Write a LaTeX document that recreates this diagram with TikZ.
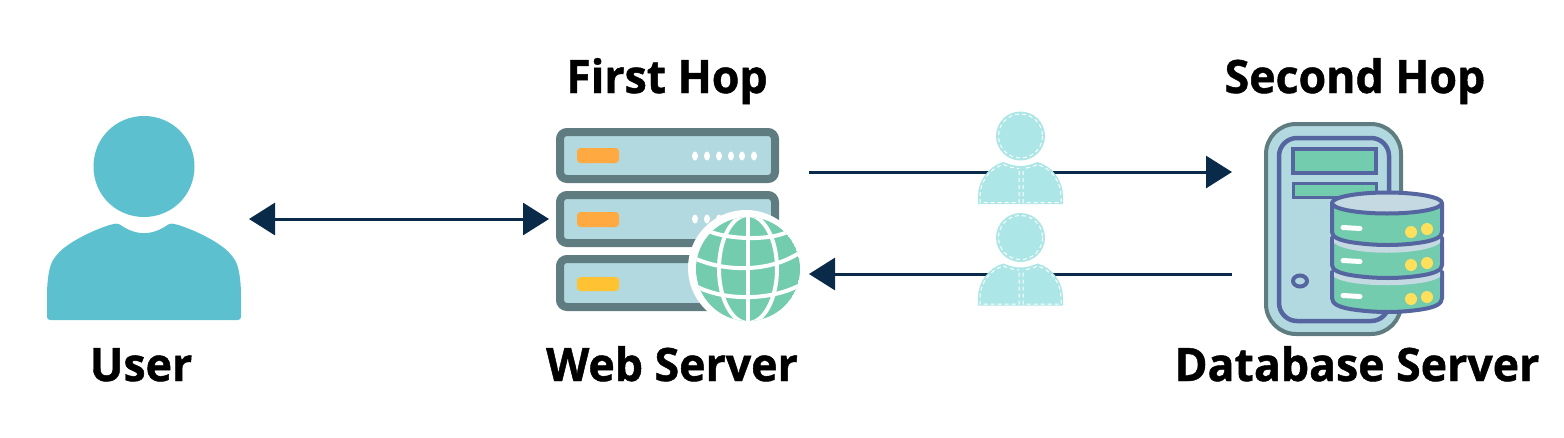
\documentclass[tikz,border=0pt]{standalone}
\usepackage{fontspec}
\setmainfont[FakeStretch=0.97,BoldFeatures={FakeStretch=0.97,FakeBold=1}]{Open Sans}
\usetikzlibrary{arrows.meta}

\definecolor{navy}{HTML}{0A2A4A}
\definecolor{usercol}{HTML}{5CC0CF}
\definecolor{palecol}{HTML}{ACE6E6}
\definecolor{rackcol}{HTML}{5F7C80}
\definecolor{panelcol}{HTML}{B3D9E0}
\definecolor{greencol}{HTML}{73CCAE}
\definecolor{indigo}{HTML}{5565A0}
\definecolor{lightcol}{HTML}{C5D9E2}
\definecolor{ledcol}{HTML}{FFA940}
\definecolor{led2col}{HTML}{FFC233}
\definecolor{dotcol}{HTML}{FFE05C}

\begin{document}
\begin{tikzpicture}
  [x=1pt,y=-1pt,
  label/.style={font=\fontsize{46}{50}\selectfont\bfseries,text=black,inner sep=0pt,anchor=base},
  link/.style={navy,line width=3pt,-{Triangle[length=26pt,width=32pt]}},
  linkboth/.style={navy,line width=3pt,{Triangle[length=26pt,width=32pt]}-{Triangle[length=26pt,width=32pt]}},
  rack/.style={draw=rackcol,fill=panelcol,line width=8pt,rounded corners=7pt},
  led/.style={fill=ledcol,rounded corners=3.5pt},
  led2/.style={fill=led2col,rounded corners=3.5pt},
  blink/.style={fill=white},
  grid/.style={draw=white,line width=4pt},
  box/.style={draw=indigo,fill=greencol,line width=4.5pt},
  disk/.style={draw=indigo,fill=greencol,line width=4pt,line join=round},
  strip/.style={white,line width=5pt,line cap=round},
  yellowdot/.style={fill=dotcol},
  stitch/.style={white,line width=1pt,dash pattern=on 4pt off 3pt},
  person/.pic={
    \fill[palecol] (0,0) circle (24.5);
    \draw[stitch] (0,0) circle (22);
    \fill[palecol] (-42.5,68) -- (-42.5,60) .. controls (-42.5,45) and (-32,30) .. (-17,26)
      .. controls (-10,29) and (-5,30) .. (0,30)
      .. controls (5,30) and (10,29) .. (17,26)
      .. controls (32,30) and (42.5,45) .. (42.5,60) -- (42.5,68) -- cycle;
    \draw[stitch] (-1.5,35) -- (-1.5,66.5) -- (-40.5,66.5) -- (-40.5,60) .. controls (-40.5,46) and (-31,32.5) .. (-17,28.5)
      .. controls (-12,31) and (-7,32) .. (-1.5,32.5);
    \draw[stitch] (2.5,35) -- (2.5,66.5) -- (40.5,66.5) -- (40.5,60) .. controls (40.5,46) and (31,32.5) .. (17,28.5)
      .. controls (12,31) and (7,32) .. (2.5,32.5);
  }]

  \useasboundingbox (0,0) rectangle (1564,437);

  % ends of the connectors
  \coordinate (userR) at (249,219);
  \coordinate (webL) at (549,219);
  \coordinate (webOut) at (809,172);
  \coordinate (dbIn) at (1232,172);
  \coordinate (dbOut) at (1232,274);
  \coordinate (webIn) at (809,274);

  \draw[linkboth] (userR) -- (webL);
  \draw[link] (webOut) -- (dbIn);
  \draw[link] (dbOut) -- (webIn);

  % user
  \fill[usercol] (93.5,166.5) .. controls (93.5,138) and (116,116) .. (144,116)
    .. controls (172,116) and (194.5,138) .. (194.5,166.5)
    .. controls (194.5,195) and (172,217) .. (144,217)
    .. controls (116,217) and (93.5,195) .. (93.5,166.5) -- cycle;
  \fill[usercol,rounded corners=3pt] (47,320) -- (47,300) .. controls (47,280) and (49,265) .. (56,256)
    .. controls (66,244) and (90,231) .. (113,224) .. controls (117,223.5) and (119,224) .. (122,226)
    .. controls (130,231) and (138,233) .. (144,233) .. controls (150,233) and (158,231) .. (166,226)
    .. controls (169,224) and (171,223.5) .. (175,224) .. controls (198,231) and (222,244) .. (232,256)
    .. controls (239,265) and (241,280) .. (241,300) -- (241,320) -- cycle;

  % web server
  \draw[rack] (560,132) rectangle (775,179);
  \draw[rack] (560,195) rectangle (775,243);
  \draw[rack] (560,259) rectangle (775,307);
  \fill[led] (577,148) rectangle (619,163);
  \fill[led] (577,212) rectangle (619,227);
  \fill[led2] (577,277) rectangle (619,291);

  \fill[blink] (695,156) ellipse (3 and 4.5);
  \fill[blink] (707,156) ellipse (3 and 4.5);
  \fill[blink] (719,156) ellipse (3 and 4.5);
  \fill[blink] (731,156) ellipse (3 and 4.5);
  \fill[blink] (742,156) ellipse (3 and 4.5);
  \fill[blink] (754,156) ellipse (3 and 4.5);
  \fill[blink] (695,219) ellipse (3 and 4.5);
  \fill[blink] (707,219) ellipse (3 and 4.5);
  \fill[blink] (719,219) ellipse (3 and 4.5);

  % globe
  \fill[white] (746,268) circle (58);
  \begin{scope}
    \clip (748,269) circle (52);
    \fill[greencol] (748,269) circle (52);
    \draw[grid] (748,210) -- (748,330);
    \draw[grid] (748,269) ellipse (29 and 54);
    \draw[grid] (700,226) .. controls (715,240) and (780,244) .. (796,226);
    \draw[grid] (690,256) .. controls (720,272) and (770,274) .. (802,251);
    \draw[grid] (692,284) .. controls (720,301) and (770,302) .. (802,284);
  \end{scope}

  % database server
  \draw[rackcol,fill=panelcol,line width=4pt,rounded corners=30pt] (1266,124) rectangle (1401,334);
  \draw[indigo,line width=4.5pt,rounded corners=18pt] (1279,138) rectangle (1389,321);
  \draw[box] (1293,149) rectangle (1376,173);
  \draw[box,line width=3pt] (1293,183) rectangle (1376,197);
  \draw[indigo,line width=4pt] (1300,281) ellipse (7 and 5.5);

  % bottom disk first, the others lie over it
  \draw[disk] (1332,272) -- (1332,298) .. controls (1332,304) and (1339,307) .. (1350,309)
    .. controls (1375,313) and (1400,313) .. (1424,309)
    .. controls (1435,307) and (1442,304) .. (1442,298) -- (1442,272) -- cycle;
  \fill[lightcol] (1334,270) -- (1334,277) .. controls (1350,288) and (1424,288) .. (1440,277) -- (1440,270) -- cycle;
  \draw[disk] (1332,238) -- (1332,265) .. controls (1332,270) and (1339,273) .. (1350,275)
    .. controls (1375,279) and (1400,279) .. (1424,275)
    .. controls (1435,273) and (1442,270) .. (1442,265) -- (1442,238) -- cycle;
  \fill[lightcol] (1334,236) -- (1334,243) .. controls (1350,256) and (1424,256) .. (1440,243) -- (1440,236) -- cycle;
  \draw[disk] (1332,204) -- (1332,232) .. controls (1332,237) and (1339,240) .. (1350,242)
    .. controls (1375,246) and (1400,246) .. (1424,242)
    .. controls (1435,240) and (1442,237) .. (1442,232) -- (1442,204) -- cycle;
  \draw[disk,fill=lightcol] (1387,203) ellipse (55 and 10.5);

  \draw[strip] (1343,227.5) -- (1360,228.5);
  \draw[strip] (1343,260.5) -- (1360,261.5);
  \draw[strip] (1343,295.5) -- (1360,296.5);
  \fill[yellowdot] (1411,232) circle (6);
  \fill[yellowdot] (1427,229) circle (6);
  \fill[yellowdot] (1411,265) circle (6);
  \fill[yellowdot] (1427,263) circle (6);
  \fill[yellowdot] (1411,299) circle (6);
  \fill[yellowdot] (1427,297) circle (6);

  % the two people on the links
  \pic at (1020.5,136) {person};
  \pic at (1020.5,237.5) {person};

  \node[label] (firstHop) at (667,93) {First Hop};
  \node[label] (secondHop) at (1355,93) {Second Hop};
  \node[label] (userText) at (141,381) {User};
  \node[label] (webText) at (672,381) {Web Server};
  \node[label] (dbText) at (1357,381) {Database Server};

\end{tikzpicture}
\end{document}
